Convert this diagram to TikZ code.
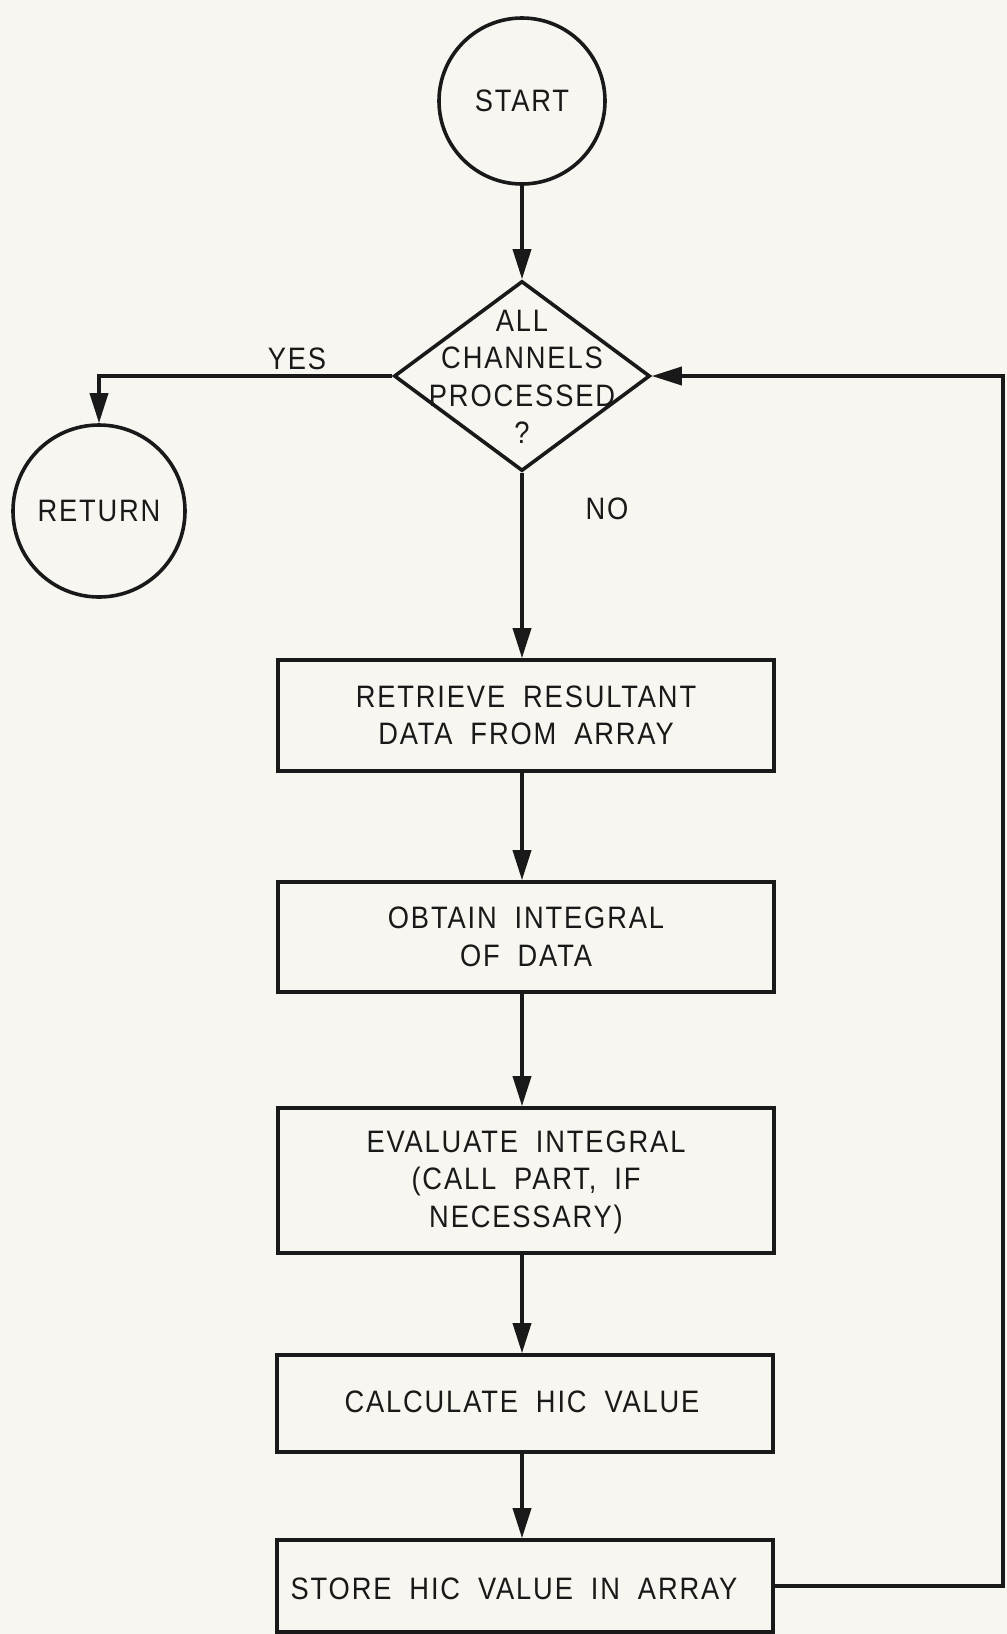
\documentclass[tikz,border=0pt]{standalone}
\usepackage{fontspec}
\setmainfont{Liberation Sans}[FakeStretch=0.88,LetterSpace=6,WordSpace=1.9]
\usetikzlibrary{arrows.meta,shapes.geometric}
\definecolor{paper}{RGB}{248,246,240}
\definecolor{ink}{RGB}{25,25,25}
\tikzset{
  conn/.style={line width=3.6pt,draw=ink,-{Triangle[length=30pt,width=18pt]}},
  procbox/.style={draw=ink,line width=3.6pt,rectangle,minimum width=496pt,inner sep=0pt},
  term/.style={draw=ink,line width=3.6pt,circle,inner sep=0pt},
  lbl/.style={font=\fontsize{31}{37.5}\selectfont,text=ink,align=center,inner sep=0pt},
}
\begin{document}
\begin{tikzpicture}[x=1pt,y=-1pt]
\fill[paper] (0,0) rectangle (1007,1634);
\useasboundingbox (0,0) rectangle (1007,1634);

% terminals
\node[term,minimum size=166pt] (start) at (522,101) {};
\node[lbl] (starttext) at (start) {START};
\node[term,minimum size=172pt] (ret) at (99,511) {};
\node[lbl] (rettext) at (ret) {RETURN};

% decision
\node[draw=ink,line width=3.6pt,diamond,minimum width=256pt,minimum height=190pt,inner sep=0pt] (dec) at (522,376) {};
\node[lbl] (dectext) at (522,377) {ALL\\CHANNELS\\PROCESSED\\?};

% process boxes
\node[procbox,minimum height=111pt] (b1) at (526,715.5) {};
\node[lbl] (b1text) at (b1) {RETRIEVE RESULTANT\\DATA FROM ARRAY};
\node[procbox,minimum height=110pt] (b2) at (526,937) {};
\node[lbl] (b2text) at (b2) {OBTAIN INTEGRAL\\OF DATA};
\node[procbox,minimum height=145pt] (b3) at (526,1180.5) {};
\node[lbl] (b3text) at (526,1182) {EVALUATE INTEGRAL\\(CALL PART, IF\\NECESSARY)};
\node[procbox,minimum height=97pt] (b4) at (525,1403.5) {};
\node[lbl] (b4text) at (522,1402) {CALCULATE HIC VALUE};
\node[procbox,minimum height=92pt] (b5) at (525,1586) {};
\node[lbl] (b5text) at (514,1589) {STORE HIC VALUE IN ARRAY};

% labels
\node[lbl] (yes) at (297,359) {YES};
\node[lbl] (no) at (607,509) {NO};

% connectors
\coordinate (loopx) at (1003,376);
\draw[conn] (start.south) -- (dec.north);
\draw[conn] (dec.west) -| (ret.north);
\draw[conn] (dec.south) -- (b1.north -| dec.south);
\draw[conn] (b1.south -| dec.south) -- (b2.north -| dec.south);
\draw[conn] (b2.south -| dec.south) -- (b3.north -| dec.south);
\draw[conn] (b3.south -| dec.south) -- (b4.north -| dec.south);
\draw[conn] (b4.south -| dec.south) -- (b5.north -| dec.south);
\draw[conn] (b5.east) -| (loopx) -- (dec.east);
\end{tikzpicture}
\end{document}
